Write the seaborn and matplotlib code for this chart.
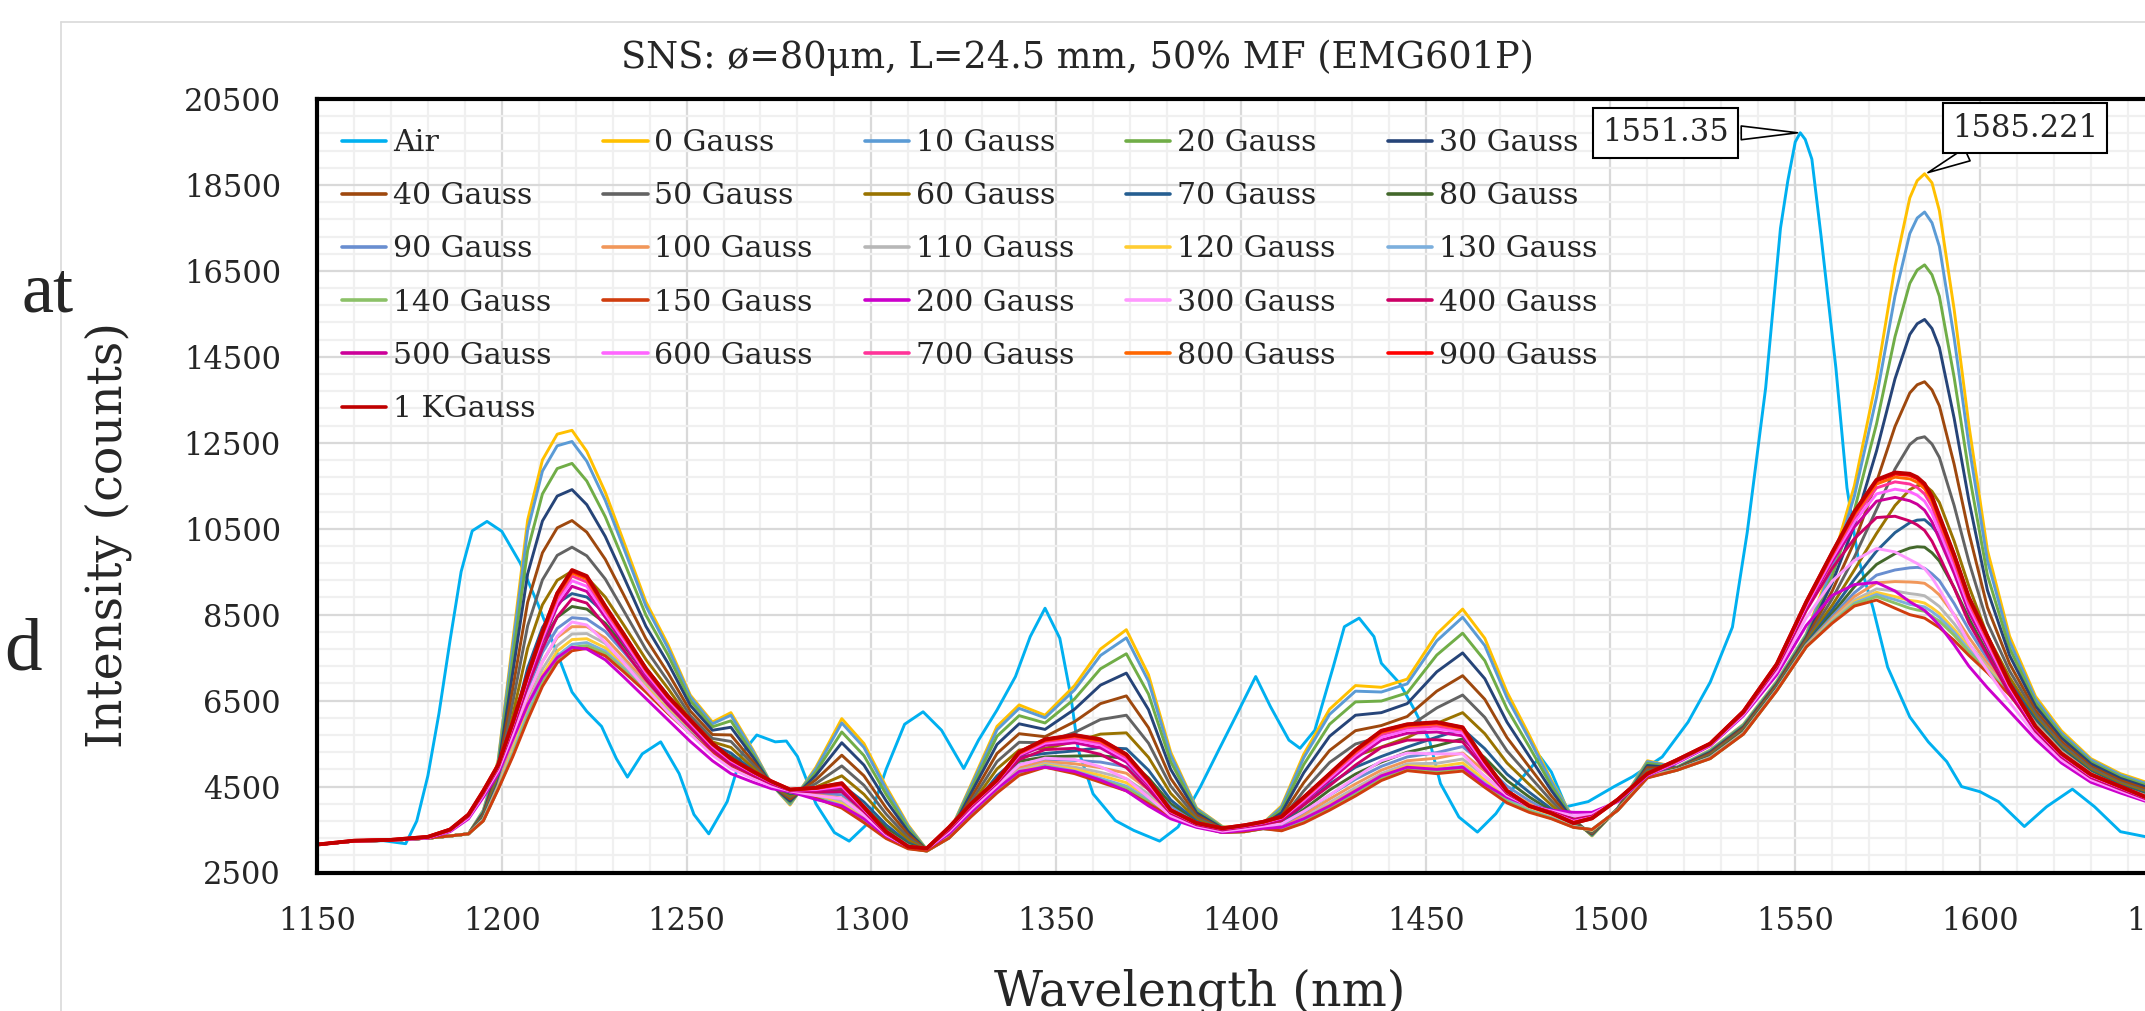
import numpy as np
import pandas as pd
import matplotlib
matplotlib.use("Agg")
import matplotlib.pyplot as plt
from matplotlib.ticker import MultipleLocator, FixedLocator, StrMethodFormatter
from matplotlib.lines import Line2D
import seaborn as sns

# wavelength grid shared by all magnetic-field spectra (nm)
WL = [1150, 1160, 1170, 1180, 1186, 1191, 1195, 1199, 1203, 1207,
      1211, 1215, 1219, 1223, 1228, 1233, 1239, 1245, 1251, 1257,
      1262, 1268, 1273, 1278, 1285, 1292, 1298, 1304, 1310, 1315,
      1321, 1327, 1334, 1340, 1347, 1355, 1362, 1369, 1375, 1381,
      1388, 1395, 1401, 1406, 1411, 1417, 1424, 1431, 1438, 1445,
      1453, 1460, 1466, 1472, 1478, 1484, 1490, 1495, 1502, 1510,
      1518, 1527, 1536, 1545, 1553, 1560, 1566, 1572, 1577, 1581,
      1583, 1585, 1587, 1589, 1593, 1597, 1602, 1608, 1615, 1622, 1630, 1638, 1645]

# air spectrum has its own sampling
AIR_WL = [1150, 1160, 1168, 1174, 1177, 1180, 1183, 1186, 1189, 1192,
          1196, 1200, 1205, 1210, 1215, 1219, 1223, 1227, 1231, 1234,
          1238, 1243, 1248, 1252, 1256, 1261, 1265, 1269, 1274, 1277,
          1280, 1285, 1290, 1294, 1299, 1304, 1309, 1314, 1319, 1325,
          1329, 1334, 1339, 1343, 1347, 1351, 1354, 1356, 1360, 1366,
          1371, 1378, 1383, 1389, 1394, 1399, 1404, 1408, 1413, 1416,
          1420, 1425, 1428, 1432, 1436, 1438, 1443, 1447, 1451, 1454,
          1459, 1464, 1469, 1474, 1481, 1484, 1488, 1494, 1501, 1506,
          1514, 1521, 1527, 1533, 1537, 1542, 1546, 1548, 1550, 1551.35, 1552.7, 1554.5,
          1557, 1561, 1564, 1567, 1571, 1575, 1581, 1586, 1591, 1595,
          1600, 1605, 1612, 1618, 1625, 1631, 1638, 1645]
AIR = [3150, 3230, 3240, 3170, 3700, 4750, 6200, 7900, 9500, 10450,
       10670, 10440, 9700, 8700, 7600, 6700, 6250, 5900, 5150, 4720,
       5260, 5540, 4800, 3850, 3400, 4150, 5270, 5700, 5540, 5560,
       5200, 4100, 3430, 3230, 3640, 4900, 5950, 6240, 5810, 4920,
       5580, 6280, 7060, 7990, 8650, 7950, 6590, 5350, 4330, 3710,
       3480, 3230, 3560, 4490, 5350, 6200, 7060, 6360, 5580, 5390,
       5810, 7290, 8220, 8420, 7990, 7370, 6900, 6280, 5580, 4570,
       3790, 3440, 3870, 4500, 5190, 4840, 4030, 4150, 4500, 4730,
       5190, 6000, 6930, 8210, 10410, 13780, 17490, 18600, 19500, 19714, 19560, 19100,
       17300, 14240, 11450, 9830, 8670, 7280, 6120, 5540, 5080, 4500,
       4380, 4150, 3570, 4030, 4440, 4030, 3450, 3330]

G0 = [3150, 3230, 3250, 3300, 3350, 3400, 3950, 5100, 7900, 10700,
      12100, 12700, 12790, 12300, 11350, 10200, 8800, 7800, 6630, 6000,
      6220, 5350, 4550, 4070, 4950, 6080, 5500, 4500, 3600, 3030,
      3400, 4550, 5900, 6400, 6160, 6850, 7700, 8150, 7100, 5300,
      4000, 3570, 3500, 3650, 4050, 5250, 6300, 6850, 6810, 7000,
      8050, 8630, 7950, 6700, 5700, 4650, 3750, 3350, 4000, 5100,
      4950, 5350, 5950, 6950, 8050, 9700, 11500, 14000, 16600, 18200,
      18600, 18760, 18550, 17900, 15600, 12900, 10000, 8000, 6600, 5800, 5150, 4800, 4600]
G10 = [3150, 3230, 3250, 3300, 3350, 3400, 3940, 5070, 7770, 10470,
       11840, 12430, 12530, 12070, 11160, 10050, 8700, 7720, 6590, 5960,
       6160, 5320, 4550, 4090, 4910, 5980, 5410, 4440, 3570, 3030,
       3400, 4510, 5820, 6320, 6100, 6750, 7550, 7960, 6950, 5230,
       3980, 3560, 3500, 3640, 4020, 5170, 6180, 6720, 6700, 6890,
       7890, 8440, 7780, 6570, 5610, 4610, 3740, 3360, 4000, 5080,
       4950, 5340, 5940, 6940, 8040, 9580, 11260, 13560, 15920, 17370,
       17730, 17870, 17620, 17070, 14940, 12440, 9760, 7880, 6540, 5750, 5120, 4770, 4570]
G20 = [3150, 3230, 3250, 3300, 3350, 3400, 3910, 5000, 7500, 10000,
       11310, 11900, 12020, 11610, 10780, 9750, 8490, 7560, 6500, 5890,
       6030, 5250, 4550, 4120, 4840, 5770, 5220, 4320, 3520, 3030,
       3390, 4440, 5670, 6150, 5980, 6540, 7240, 7590, 6650, 5080,
       3940, 3550, 3490, 3630, 3960, 5010, 5950, 6470, 6490, 6680,
       7560, 8070, 7430, 6310, 5430, 4520, 3720, 3370, 3990, 5040,
       4940, 5320, 5920, 6920, 8010, 9410, 10930, 12940, 14970, 16210,
       16520, 16640, 16410, 15910, 14020, 11800, 9420, 7720, 6460, 5690, 5070, 4730, 4530]
G30 = [3150, 3230, 3250, 3300, 3350, 3400, 3880, 4920, 7170, 9450,
       10680, 11260, 11410, 11060, 10320, 9380, 8230, 7370, 6390, 5810,
       5880, 5180, 4540, 4160, 4760, 5520, 5000, 4170, 3450, 3020,
       3370, 4350, 5480, 5960, 5830, 6300, 6860, 7140, 6290, 4900,
       3890, 3530, 3490, 3610, 3890, 4820, 5670, 6160, 6220, 6430,
       7170, 7610, 7010, 6000, 5210, 4410, 3700, 3390, 3990, 4990,
       4930, 5300, 5890, 6890, 7970, 9240, 10580, 12310, 13990, 15020,
       15270, 15370, 15160, 14720, 13070, 11150, 9070, 7550, 6370, 5630, 5030, 4690, 4490]
G40 = [3150, 3230, 3250, 3300, 3350, 3400, 3850, 4830, 6790, 8790,
       9940, 10520, 10690, 10420, 9790, 8960, 7940, 7140, 6260, 5710,
       5700, 5080, 4540, 4210, 4660, 5230, 4750, 4000, 3380, 3020,
       3360, 4240, 5270, 5730, 5660, 6010, 6430, 6610, 5870, 4690,
       3830, 3510, 3480, 3600, 3810, 4590, 5340, 5800, 5920, 6130,
       6720, 7080, 6530, 5640, 4960, 4280, 3670, 3410, 3980, 4940,
       4920, 5270, 5860, 6860, 7930, 9050, 10190, 11590, 12880, 13660,
       13850, 13920, 13730, 13360, 12000, 10400, 8670, 7360, 6270, 5550, 4970, 4640, 4440]
G50 = [3150, 3230, 3250, 3300, 3350, 3400, 3820, 4750, 6470, 8240,
       9310, 9880, 10070, 9870, 9330, 8590, 7690, 6950, 6150, 5620,
       5550, 5010, 4540, 4260, 4570, 4980, 4530, 3860, 3310, 3010,
       3350, 4150, 5080, 5530, 5520, 5760, 6060, 6160, 5510, 4510,
       3780, 3500, 3470, 3580, 3740, 4400, 5060, 5490, 5660, 5870,
       6330, 6630, 6110, 5330, 4750, 4170, 3640, 3430, 3970, 4890,
       4910, 5240, 5830, 6830, 7890, 8870, 9840, 10950, 11890, 12460,
       12600, 12640, 12470, 12160, 11040, 9730, 8310, 7190, 6190, 5490, 4930, 4590, 4390]
G60 = [3150, 3230, 3250, 3300, 3350, 3400, 3790, 4670, 6170, 7720,
       8730, 9300, 9510, 9370, 8910, 8260, 7460, 6780, 6050, 5540,
       5410, 4930, 4540, 4290, 4490, 4750, 4320, 3730, 3250, 3010,
       3340, 4070, 4910, 5350, 5390, 5540, 5720, 5750, 5180, 4340,
       3730, 3480, 3470, 3570, 3680, 4230, 4800, 5210, 5420, 5640,
       5970, 6220, 5730, 5050, 4550, 4070, 3620, 3450, 3970, 4840,
       4910, 5220, 5800, 6810, 7860, 8720, 9540, 10390, 11040, 11410,
       11500, 11520, 11370, 11110, 10210, 9160, 8010, 7040, 6110, 5430, 4880, 4560, 4360]
G70 = [3150, 3230, 3250, 3300, 3350, 3400, 3770, 4600, 5900, 7260,
       8200, 8760, 8990, 8910, 8530, 7960, 7250, 6620, 5960, 5470,
       5280, 4870, 4540, 4330, 4420, 4540, 4140, 3610, 3190, 3010,
       3330, 4000, 4750, 5190, 5270, 5330, 5410, 5380, 4880, 4190,
       3690, 3470, 3460, 3550, 3620, 4070, 4560, 4950, 5200, 5420,
       5650, 5840, 5380, 4790, 4370, 3980, 3600, 3460, 3960, 4800,
       4900, 5200, 5780, 6790, 7830, 8610, 9320, 9980, 10410, 10640,
       10700, 10710, 10560, 10340, 9600, 8730, 7780, 6930, 6060, 5390, 4850, 4530, 4330]
G80 = [3150, 3230, 3250, 3300, 3350, 3400, 3750, 4560, 5740, 6980,
       7880, 8440, 8690, 8630, 8300, 7780, 7120, 6520, 5910, 5420,
       5200, 4830, 4530, 4350, 4370, 4420, 4030, 3530, 3160, 3010,
       3320, 3950, 4660, 5090, 5190, 5210, 5220, 5150, 4700, 4100,
       3660, 3460, 3460, 3550, 3590, 3970, 4420, 4790, 5070, 5300,
       5450, 5610, 5170, 4640, 4260, 3930, 3590, 3470, 3960, 4780,
       4890, 5190, 5770, 6770, 7810, 8520, 9150, 9670, 9920, 10050,
       10080, 10070, 9940, 9750, 9130, 8410, 7610, 6850, 6010, 5360, 4830, 4510, 4310]
G90 = [3150, 3230, 3250, 3300, 3350, 3400, 3740, 4530, 5610, 6750,
       7620, 8180, 8430, 8400, 8110, 7630, 7020, 6440, 5870, 5390,
       5140, 4800, 4530, 4370, 4340, 4310, 3940, 3470, 3130, 3000,
       3320, 3910, 4580, 5010, 5130, 5110, 5070, 4960, 4550, 4030,
       3640, 3450, 3460, 3540, 3560, 3890, 4300, 4670, 4970, 5190,
       5290, 5430, 5000, 4510, 4170, 3890, 3580, 3480, 3960, 4760,
       4890, 5180, 5750, 6760, 7800, 8460, 9010, 9420, 9540, 9590,
       9600, 9580, 9450, 9290, 8760, 8150, 7470, 6780, 5980, 5330, 4810, 4490, 4290]
G100 = [3150, 3230, 3250, 3300, 3350, 3400, 3730, 4500, 5500, 6560,
        7410, 7970, 8220, 8220, 7960, 7500, 6930, 6380, 5830, 5360,
        5090, 4770, 4530, 4380, 4310, 4230, 3860, 3420, 3110, 3000,
        3310, 3880, 4520, 4940, 5080, 5030, 4940, 4810, 4430, 3970,
        3630, 3450, 3460, 3530, 3530, 3830, 4210, 4560, 4880, 5100,
        5160, 5280, 4860, 4400, 4100, 3850, 3570, 3480, 3960, 4740,
        4890, 5170, 5750, 6750, 7780, 8410, 8920, 9240, 9270, 9260,
        9250, 9230, 9110, 8960, 8500, 7970, 7370, 6740, 5960, 5310, 4800, 4480, 4280]
G110 = [3150, 3230, 3250, 3300, 3350, 3400, 3720, 4480, 5400, 6400,
        7230, 7780, 8050, 8060, 7830, 7400, 6860, 6320, 5800, 5330,
        5050, 4750, 4530, 4390, 4280, 4160, 3800, 3380, 3090, 3000,
        3310, 3860, 4470, 4880, 5040, 4950, 4830, 4680, 4330, 3910,
        3610, 3440, 3450, 3530, 3510, 3770, 4130, 4470, 4800, 5030,
        5040, 5140, 4740, 4310, 4040, 3820, 3570, 3490, 3950, 4730,
        4890, 5170, 5740, 6750, 7770, 8370, 8840, 9100, 9050, 8990,
        8970, 8940, 8820, 8690, 8290, 7820, 7290, 6700, 5940, 5300, 4790, 4470, 4270]
G120 = [3150, 3230, 3250, 3300, 3350, 3400, 3710, 4460, 5340, 6280,
        7090, 7650, 7920, 7940, 7730, 7320, 6810, 6280, 5780, 5320,
        5010, 4730, 4530, 4400, 4270, 4100, 3750, 3350, 3080, 3000,
        3310, 3840, 4430, 4840, 5010, 4900, 4760, 4590, 4250, 3880,
        3600, 3440, 3450, 3530, 3500, 3730, 4070, 4410, 4750, 4980,
        4960, 5050, 4650, 4250, 3990, 3800, 3560, 3490, 3950, 4720,
        4880, 5160, 5730, 6740, 7770, 8350, 8800, 9020, 8920, 8830,
        8810, 8770, 8660, 8530, 8160, 7730, 7250, 6680, 5920, 5290, 4780, 4460, 4260]
G130 = [3150, 3230, 3250, 3300, 3350, 3400, 3710, 4450, 5280, 6190,
        6990, 7540, 7810, 7850, 7650, 7260, 6760, 6250, 5760, 5300,
        4990, 4720, 4530, 4410, 4250, 4060, 3720, 3330, 3070, 3000,
        3300, 3820, 4400, 4810, 4990, 4860, 4690, 4510, 4190, 3850,
        3590, 3430, 3450, 3520, 3490, 3700, 4020, 4360, 4710, 4930,
        4900, 4970, 4580, 4200, 3950, 3780, 3560, 3500, 3950, 4710,
        4880, 5160, 5730, 6740, 7760, 8340, 8770, 8970, 8850, 8740,
        8710, 8680, 8570, 8440, 8090, 7680, 7220, 6660, 5920, 5280, 4780, 4460, 4260]
G140 = [3150, 3230, 3250, 3300, 3350, 3400, 3700, 4440, 5240, 6120,
        6910, 7460, 7740, 7780, 7600, 7220, 6730, 6220, 5740, 5290,
        4970, 4710, 4530, 4420, 4240, 4030, 3690, 3310, 3060, 3000,
        3300, 3810, 4370, 4790, 4970, 4830, 4650, 4460, 4150, 3820,
        3590, 3430, 3450, 3520, 3480, 3670, 3990, 4320, 4670, 4900,
        4850, 4920, 4530, 4160, 3930, 3760, 3550, 3500, 3950, 4710,
        4880, 5150, 5720, 6730, 7750, 8320, 8740, 8920, 8770, 8650,
        8610, 8580, 8460, 8350, 8020, 7630, 7190, 6650, 5910, 5280, 4780, 4460, 4260]
G150 = [3150, 3230, 3250, 3300, 3350, 3400, 3700, 4430, 5200, 6050,
        6830, 7380, 7660, 7715, 7540, 7170, 6700, 6200, 5730, 5280,
        4950, 4700, 4530, 4420, 4230, 4000, 3660, 3290, 3050, 3000,
        3300, 3800, 4350, 4760, 4950, 4800, 4600, 4400, 4100, 3800,
        3580, 3430, 3450, 3520, 3470, 3650, 3950, 4280, 4640, 4870,
        4800, 4860, 4480, 4120, 3900, 3750, 3550, 3500, 3950, 4700,
        4880, 5150, 5720, 6730, 7750, 8300, 8700, 8840, 8650, 8500,
        8460, 8420, 8310, 8200, 7900, 7550, 7150, 6630, 5900, 5270, 4770, 4450, 4250]
G200 = [3150, 3230, 3250, 3300, 3450, 3750, 4250, 4800, 5600, 6400,
        7050, 7500, 7740, 7700, 7450, 7050, 6550, 6050, 5550, 5100,
        4800, 4600, 4450, 4380, 4200, 4050, 3750, 3350, 3100, 3050,
        3400, 3900, 4450, 4850, 4950, 4850, 4650, 4400, 4050, 3750,
        3550, 3430, 3480, 3530, 3550, 3750, 4050, 4400, 4750, 4950,
        4900, 4950, 4550, 4250, 4050, 3950, 3900, 3900, 4150, 4750,
        5050, 5450, 6150, 7100, 8250, 8950, 9200, 9250, 9050, 8800,
        8700, 8600, 8430, 8250, 7800, 7300, 6800, 6250, 5600, 5050, 4600, 4350, 4150]
G300 = [3150, 3230, 3250, 3310, 3470, 3780, 4300, 4870, 5730, 6630,
        7400, 8000, 8330, 8260, 7860, 7380, 6780, 6230, 5720, 5230,
        4920, 4680, 4510, 4400, 4290, 4220, 3840, 3380, 3100, 3050,
        3450, 3970, 4520, 5000, 5160, 5130, 4960, 4680, 4250, 3820,
        3580, 3460, 3520, 3580, 3630, 3920, 4300, 4710, 5100, 5280,
        5260, 5260, 4730, 4300, 4050, 3930, 3820, 3850, 4170, 4770,
        5070, 5470, 6180, 7180, 8430, 9280, 9760, 10040, 9960, 9780,
        9690, 9570, 9360, 9090, 8490, 7830, 7200, 6460, 5700, 5120, 4660, 4400, 4180]
G400 = [3150, 3240, 3260, 3320, 3480, 3810, 4340, 4930, 5850, 6840,
        7710, 8450, 8870, 8770, 8240, 7680, 6990, 6400, 5870, 5350,
        5020, 4760, 4560, 4410, 4370, 4380, 3920, 3410, 3100, 3060,
        3490, 4030, 4580, 5130, 5360, 5390, 5250, 4940, 4430, 3880,
        3610, 3490, 3560, 3620, 3710, 4070, 4520, 5000, 5410, 5580,
        5590, 5540, 4900, 4340, 4050, 3910, 3740, 3810, 4180, 4780,
        5090, 5480, 6210, 7260, 8600, 9580, 10270, 10760, 10790, 10680,
        10590, 10460, 10210, 9860, 9120, 8310, 7560, 6660, 5790, 5190, 4710, 4440, 4210]
G500 = [3150, 3240, 3260, 3320, 3490, 3830, 4370, 4960, 5920, 6950,
        7880, 8690, 9160, 9040, 8440, 7840, 7100, 6480, 5950, 5420,
        5080, 4800, 4580, 4420, 4410, 4470, 3960, 3430, 3100, 3060,
        3520, 4060, 4610, 5210, 5460, 5520, 5400, 5070, 4520, 3910,
        3630, 3510, 3570, 3650, 3750, 4150, 4640, 5150, 5580, 5740,
        5770, 5680, 4980, 4370, 4050, 3890, 3700, 3790, 4190, 4790,
        5110, 5490, 6230, 7300, 8680, 9740, 10540, 11140, 11230, 11150,
        11070, 10930, 10660, 10260, 9460, 8560, 7750, 6760, 5840, 5220, 4740, 4470, 4230]
G600 = [3150, 3240, 3260, 3330, 3490, 3840, 4380, 4970, 5940, 7000,
        7950, 8790, 9290, 9160, 8530, 7910, 7150, 6520, 5980, 5440,
        5100, 4820, 4600, 4420, 4430, 4510, 3980, 3440, 3100, 3060,
        3530, 4070, 4620, 5240, 5510, 5580, 5470, 5130, 4570, 3920,
        3640, 3520, 3580, 3660, 3770, 4180, 4700, 5220, 5650, 5810,
        5850, 5750, 5020, 4380, 4050, 3890, 3690, 3780, 4190, 4790,
        5110, 5490, 6240, 7320, 8720, 9810, 10660, 11310, 11420, 11360,
        11280, 11140, 10860, 10440, 9610, 8680, 7830, 6810, 5860, 5240, 4750, 4480, 4240]
G700 = [3150, 3240, 3260, 3330, 3500, 3840, 4390, 4980, 5970, 7040,
        8020, 8880, 9400, 9260, 8600, 7970, 7190, 6560, 6010, 5470,
        5120, 4830, 4610, 4430, 4450, 4540, 4000, 3440, 3100, 3060,
        3540, 4080, 4630, 5260, 5550, 5630, 5520, 5180, 4600, 3930,
        3640, 3520, 3590, 3670, 3780, 4210, 4740, 5270, 5720, 5870,
        5910, 5810, 5060, 4390, 4050, 3890, 3670, 3770, 4200, 4800,
        5110, 5500, 6240, 7330, 8760, 9870, 10760, 11450, 11590, 11540,
        11460, 11310, 11020, 10600, 9730, 8770, 7900, 6850, 5880, 5250, 4770, 4490, 4240]
G800 = [3150, 3240, 3260, 3330, 3500, 3850, 4390, 4990, 5980, 7070,
        8060, 8940, 9470, 9330, 8650, 8010, 7220, 6580, 6030, 5480,
        5140, 4840, 4610, 4430, 4460, 4560, 4010, 3450, 3100, 3060,
        3540, 4090, 4640, 5280, 5570, 5670, 5560, 5220, 4630, 3940,
        3650, 3530, 3600, 3670, 3790, 4230, 4770, 5310, 5760, 5910,
        5960, 5840, 5080, 4390, 4050, 3880, 3660, 3770, 4200, 4800,
        5120, 5500, 6250, 7340, 8780, 9910, 10830, 11540, 11700, 11660,
        11580, 11430, 11140, 10700, 9820, 8840, 7950, 6870, 5890, 5260, 4770, 4490, 4250]
G900 = [3150, 3240, 3260, 3330, 3500, 3850, 4400, 5000, 6000, 7090,
        8090, 8990, 9520, 9380, 8690, 8040, 7240, 6590, 6050, 5500,
        5150, 4850, 4620, 4430, 4470, 4570, 4020, 3450, 3100, 3060,
        3550, 4100, 4650, 5300, 5590, 5690, 5590, 5240, 4640, 3950,
        3650, 3530, 3600, 3680, 3800, 4250, 4790, 5340, 5790, 5940,
        5990, 5870, 5090, 4400, 4050, 3880, 3650, 3760, 4200, 4800,
        5120, 5500, 6250, 7350, 8800, 9940, 10880, 11620, 11780, 11750,
        11670, 11520, 11220, 10770, 9880, 8880, 7990, 6890, 5900, 5270, 4780, 4500, 4250]
G1K = [3150, 3240, 3260, 3330, 3500, 3850, 4400, 5000, 6000, 7100,
       8100, 9000, 9540, 9400, 8700, 8050, 7250, 6600, 6050, 5500,
       5150, 4850, 4620, 4430, 4470, 4580, 4020, 3450, 3100, 3060,
       3550, 4100, 4650, 5300, 5600, 5700, 5600, 5250, 4650, 3950,
       3650, 3530, 3600, 3680, 3800, 4250, 4800, 5350, 5800, 5950,
       6000, 5880, 5100, 4400, 4050, 3880, 3650, 3760, 4200, 4800,
       5120, 5500, 6250, 7350, 8800, 9950, 10900, 11640, 11810, 11780,
       11700, 11550, 11250, 10800, 9900, 8900, 8000, 6900, 5900, 5270, 4780, 4500, 4250]

SERIES = [
    ("Air", AIR_WL, AIR, "#00B0F0"),
    ("0 Gauss", WL, G0, "#FFC000"),
    ("10 Gauss", WL, G10, "#5B9BD5"),
    ("20 Gauss", WL, G20, "#70AD47"),
    ("30 Gauss", WL, G30, "#264478"),
    ("40 Gauss", WL, G40, "#9E480E"),
    ("50 Gauss", WL, G50, "#636363"),
    ("60 Gauss", WL, G60, "#997300"),
    ("70 Gauss", WL, G70, "#255E91"),
    ("80 Gauss", WL, G80, "#43682B"),
    ("90 Gauss", WL, G90, "#698ED0"),
    ("100 Gauss", WL, G100, "#F1975A"),
    ("110 Gauss", WL, G110, "#B7B7B7"),
    ("120 Gauss", WL, G120, "#FFCD33"),
    ("130 Gauss", WL, G130, "#7CAFDD"),
    ("140 Gauss", WL, G140, "#8CC168"),
    ("150 Gauss", WL, G150, "#D03D0E"),
    ("200 Gauss", WL, G200, "#CC00CC"),
    ("300 Gauss", WL, G300, "#FF99FF"),
    ("400 Gauss", WL, G400, "#CC0066"),
    ("500 Gauss", WL, G500, "#CC0099"),
    ("600 Gauss", WL, G600, "#FF66FF"),
    ("700 Gauss", WL, G700, "#FF3399"),
    ("800 Gauss", WL, G800, "#FF6600"),
    ("900 Gauss", WL, G900, "#FF0000"),
    ("1 KGauss", WL, G1K, "#C00000"),
]
NAMES = [s[0] for s in SERIES]
COLORS = {s[0]: s[3] for s in SERIES}

rows = []
for name, xs, ys, _ in SERIES:
    for x, y in zip(xs, ys):
        rows.append((name, x, y))
df = pd.DataFrame(rows, columns=["series", "wl", "counts"])

sns.set_style("white")
plt.rcParams["font.family"] = "DejaVu Serif"

W, H = 2145, 1011
fig = plt.figure(figsize=(W / 100, H / 100), dpi=100)
# plot area: 1150 nm at x=317 px, 3.6956 px per nm, 2500..20500 from y=872.5 to 99
ax = fig.add_axes([317 / W, (H - 872.5) / H, 550 * 3.6956 / W, 773.5 / H])

sns.lineplot(data=df, x="wl", y="counts", hue="series", hue_order=NAMES,
             palette=COLORS, estimator=None, sort=False, legend=False,
             linewidth=2.1, ax=ax)
for ln in ax.lines:
    ln.set_solid_joinstyle("round")
ax.lines[-1].set_linewidth(2.7)
ax.lines[-2].set_linewidth(2.7)

ax.set_xlim(1150, 1700)
ax.set_ylim(2500, 20500)
ax.xaxis.set_major_locator(MultipleLocator(50))
ax.xaxis.set_minor_locator(MultipleLocator(10))
ax.yaxis.set_major_locator(FixedLocator(np.arange(2500, 20501, 2000)))
ax.yaxis.set_minor_locator(FixedLocator(np.arange(2500, 20501, 400)))
ax.yaxis.set_major_formatter(StrMethodFormatter("{x:.0f}"))
ax.xaxis.set_major_formatter(StrMethodFormatter("{x:.0f}"))
ax.set_axisbelow(True)
ax.grid(which="major", color="#d9d9d9", lw=1.6)
ax.grid(which="minor", color="#f0f0f0", lw=1.6)
ax.set_xlabel("")
ax.set_ylabel("")

for side in ["left", "bottom", "top"]:
    ax.spines[side].set_linewidth(3)
    ax.spines[side].set_color("black")
ax.spines["right"].set_visible(False)

ax.tick_params(which="major", direction="inout", length=18, width=2.2,
               labelsize=22, color="black")
ax.tick_params(axis="x", which="major", pad=15)
ax.tick_params(axis="y", which="major", pad=17)
ax.tick_params(which="minor", direction="in", length=7, width=2, color="black")

# legend, laid out row-wise like the original (matplotlib fills columns first)
LEG_ORDER = ["Air", "40 Gauss", "90 Gauss", "140 Gauss", "500 Gauss", "1 KGauss",
             "0 Gauss", "50 Gauss", "100 Gauss", "150 Gauss", "600 Gauss",
             "10 Gauss", "60 Gauss", "110 Gauss", "200 Gauss", "700 Gauss",
             "20 Gauss", "70 Gauss", "120 Gauss", "300 Gauss", "800 Gauss",
             "30 Gauss", "80 Gauss", "130 Gauss", "400 Gauss", "900 Gauss"]
handles = [Line2D([], [], color=COLORS[n], lw=2.6) for n in LEG_ORDER]
fig.legend(handles, LEG_ORDER, ncol=5, loc="upper left",
           bbox_to_anchor=(342 / W, (H - 129) / H), bbox_transform=fig.transFigure,
           frameon=False, fontsize=21.6, handlelength=1.47, handletextpad=0.23,
           columnspacing=1.73, labelspacing=0.84, borderpad=0, borderaxespad=0)

# peak callouts
box = dict(boxstyle="square,pad=0.3", fc="white", ec="black", lw=1.5)
wedge = dict(arrowstyle="wedge,tail_width=0.45,shrink_factor=0.5",
             fc="white", ec="black", lw=1.2)
ax.annotate("1551.35", xy=(1551.35, 19714), xytext=(1514.8, 19709),
            ha="center", va="center", fontsize=22, bbox=box, arrowprops=wedge,
            annotation_clip=False, zorder=10)
ax.annotate("1585.221", xy=(1585.221, 18760), xytext=(1612.2, 19825),
            ha="center", va="center", fontsize=22, bbox=box, arrowprops=wedge,
            annotation_clip=False, zorder=10)

fig.text(1077 / W, 1 - 68 / H, "SNS: ø=80μm, L=24.5 mm, 50% MF (EMG601P)",
         ha="center", va="baseline", fontsize=26.4)
fig.text(108 / W, 1 - 535 / H, "Intensity (counts)", rotation=90,
         ha="center", va="center", fontsize=34.3)
fig.text(1200 / W, (H - 1005) / H, "Wavelength (nm)", ha="center",
         va="baseline", fontsize=34.3)

# surrounding page: chart frame and bits of body text
fig.add_artist(Line2D([61 / W, 61 / W], [0, 1 - 22 / H], color="#d9d9d9", lw=1.2))
fig.add_artist(Line2D([61 / W, 1], [1 - 22 / H, 1 - 22 / H], color="#d9d9d9", lw=1.2))
fig.text(21 / W, 1 - 311 / H, "at", fontsize=52, family="Liberation Serif",
         va="baseline", ha="left")
fig.text(4 / W, 1 - 670 / H, "d", fontsize=54, family="Liberation Serif",
         va="baseline", ha="left")

fig.savefig("out.png", dpi=100)
